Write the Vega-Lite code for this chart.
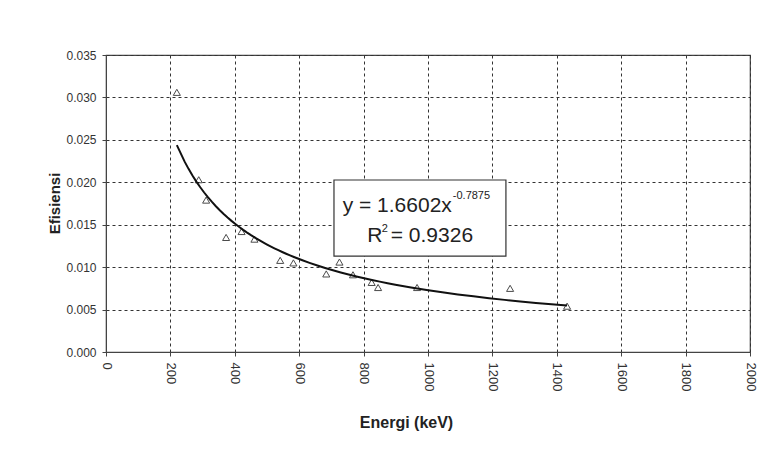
{
  "$schema": "https://vega.github.io/schema/vega-lite/v6.json",
  "width": 644,
  "height": 297,
  "autosize": "none",
  "padding": {"left": 106, "top": 55, "right": 21, "bottom": 98},
  "background": "white",
  "config": {
    "font": "Liberation Sans",
    "view": {"stroke": "#444", "strokeWidth": 1.2},
    "axis": {
      "labelFont": "Liberation Sans",
      "titleFont": "Liberation Sans",
      "labelFontSize": 13,
      "labelColor": "#333",
      "titleColor": "#222",
      "titleFontSize": 16,
      "titleFontWeight": "bold",
      "tickSize": 4,
      "tickColor": "#444",
      "domainColor": "#444",
      "grid": true,
      "gridColor": "#333",
      "gridDash": [3, 3],
      "gridWidth": 1,
      "gridOpacity": 1
    }
  },
  "datasets": {
    "pts": [
      {"energi": 220, "efisiensi": 0.0306},
      {"energi": 288, "efisiensi": 0.0203},
      {"energi": 311, "efisiensi": 0.0179},
      {"energi": 373, "efisiensi": 0.0135},
      {"energi": 421, "efisiensi": 0.0142},
      {"energi": 461, "efisiensi": 0.0133},
      {"energi": 541, "efisiensi": 0.0108},
      {"energi": 582, "efisiensi": 0.0105},
      {"energi": 684, "efisiensi": 0.0092},
      {"energi": 725, "efisiensi": 0.0106},
      {"energi": 767, "efisiensi": 0.0091},
      {"energi": 825, "efisiensi": 0.0082},
      {"energi": 845, "efisiensi": 0.0076},
      {"energi": 966, "efisiensi": 0.0076},
      {"energi": 1255, "efisiensi": 0.0075},
      {"energi": 1432, "efisiensi": 0.0054}
    ]
  },
  "layer": [
    {
      "data": {"name": "pts"},
      "mark": {"type": "point", "shape": "triangle-up", "filled": false, "color": "black", "size": 50, "strokeWidth": 1},
      "encoding": {
        "x": {
          "field": "energi",
          "type": "quantitative",
          "scale": {"domain": [0, 2000], "nice": false, "zero": true},
          "axis": {
            "title": "Energi (keV)",
            "values": [0, 200, 400, 600, 800, 1000, 1200, 1400, 1600, 1800, 2000],
            "format": "d",
            "labelAngle": 90,
            "labelPadding": 6,
            "titleX": 300,
            "titleY": 70,
            "titleBaseline": "middle",
            "titleAnchor": "middle"
          }
        },
        "y": {
          "field": "efisiensi",
          "type": "quantitative",
          "scale": {"domain": [0, 0.035], "nice": false},
          "axis": {
            "title": "Efisiensi",
            "values": [0, 0.005, 0.01, 0.015, 0.02, 0.025, 0.03, 0.035],
            "format": ".3f",
            "labelFontSize": 12,
            "labelPadding": 6,
            "titleFontSize": 15,
            "titleAngle": -90,
            "titleX": -52,
            "titleY": 148,
            "titleBaseline": "middle",
            "titleAlign": "center"
          }
        }
      }
    },
    {
      "data": {"name": "pts"},
      "transform": [{"regression": "efisiensi", "on": "energi", "method": "pow"}],
      "mark": {"type": "line", "color": "#111", "strokeWidth": 2},
      "encoding": {
        "x": {"field": "energi", "type": "quantitative"},
        "y": {"field": "efisiensi", "type": "quantitative"}
      }
    },
    {
      "data": {"values": [{"label": "box"}]},
      "mark": {"type": "rect", "fill": "white", "stroke": "#333", "strokeWidth": 1.2},
      "encoding": {
        "x": {"datum": 708},
        "x2": {"datum": 1242},
        "y": {"datum": 0.02027},
        "y2": {"datum": 0.01131}
      }
    },
    {
      "data": {"values": [{"label": "y = 1.6602x"}]},
      "mark": {"type": "text", "align": "right", "baseline": "alphabetic", "fontSize": 21, "color": "#222"},
      "encoding": {"x": {"datum": 1074}, "y": {"datum": 0.0165}, "text": {"field": "label"}}
    },
    {
      "data": {"values": [{"label": "-0.7875"}]},
      "mark": {"type": "text", "align": "left", "baseline": "alphabetic", "fontSize": 11, "color": "#222"},
      "encoding": {"x": {"datum": 1077}, "y": {"datum": 0.01803}, "text": {"field": "label"}}
    },
    {
      "data": {"values": [{"label": "R"}]},
      "mark": {"type": "text", "align": "left", "baseline": "alphabetic", "fontSize": 21, "color": "#222"},
      "encoding": {"x": {"datum": 811}, "y": {"datum": 0.01296}, "text": {"field": "label"}}
    },
    {
      "data": {"values": [{"label": "2"}]},
      "mark": {"type": "text", "align": "left", "baseline": "alphabetic", "fontSize": 11, "color": "#222"},
      "encoding": {"x": {"datum": 856}, "y": {"datum": 0.01414}, "text": {"field": "label"}}
    },
    {
      "data": {"values": [{"label": "= 0.9326"}]},
      "mark": {"type": "text", "align": "right", "baseline": "alphabetic", "fontSize": 21, "color": "#222"},
      "encoding": {"x": {"datum": 1140}, "y": {"datum": 0.01296}, "text": {"field": "label"}}
    }
  ]
}
